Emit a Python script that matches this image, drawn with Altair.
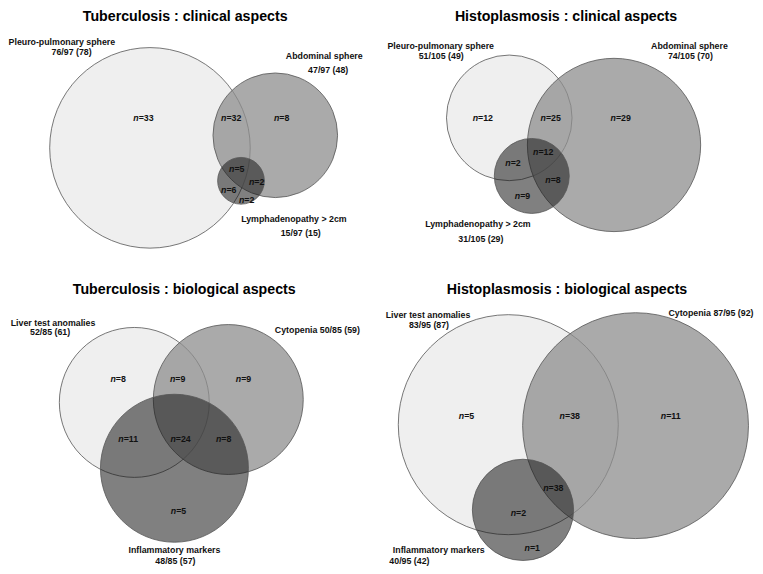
import altair as alt
import pandas as pd

# ---------------- data ----------------
IMG_W, IMG_H = 763, 574
W, H = 747, 558
Y0 = -2.5  # top of vertical domain (keeps titles inside the drawing)
SX = W / IMG_W
SY = H / (IMG_H - Y0)
S = (SX + SY) / 2

titles = ["Tuberculosis : clinical aspects", "Histoplasmosis : clinical aspects",
          "Tuberculosis : biological aspects", "Histoplasmosis : biological aspects"]
title_x = [181, 570, 180, 571]
title_y = [11, 11, 292.5, 293]

circle_name = ["TB Pleuro-pulmonary", "TB Abdominal", "TB Lymphadenopathy",
               "H Pleuro-pulmonary", "H Abdominal", "H Lymphadenopathy",
               "TB Liver", "TB Cytopenia", "TB Inflammatory",
               "H Liver", "H Cytopenia", "H Inflammatory"]
circle_x = [145, 273, 238, 512, 619, 535, 129, 225, 170, 511, 641, 526]
circle_y = [142, 129, 176, 111, 139, 171, 405, 402, 473, 428, 429, 516]
circle_r = [103, 64, 24, 64.5, 89, 38.5, 77, 77, 76, 113, 116, 52]
circle_tone = ["light", "medium", "dark"] * 4

set_text = ["Pleuro-pulmonary sphere", "76/97 (78)", "Abdominal sphere", "47/97 (48)",
            "Lymphadenopathy > 2cm", "15/97 (15)",
            "Pleuro-pulmonary sphere", "51/105 (49)", "Abdominal sphere", "74/105 (70)",
            "Lymphadenopathy > 2cm", "31/105 (29)",
            "Liver test anomalies", "52/85 (61)", "Cytopenia 50/85 (59)",
            "Inflammatory markers", "48/85 (57)",
            "Liver test anomalies", "83/95 (87)", "Cytopenia 87/95 (92)",
            "Inflammatory markers", "40/95 (42)"]
set_x = [55, 65, 323, 327, 292, 299,
         442, 442.5, 696, 697, 480, 483,
         46, 43, 316, 170, 171,
         429, 430, 718, 440, 410]
set_y = [35.5, 46.5, 50, 64.5, 219, 233,
         39.5, 50, 39.5, 50, 224, 239,
         325.7, 335.7, 333.3, 560.7, 572,
         317.7, 327.7, 315.7, 561, 571.7]

n_val = [33, 32, 8, 5, 2, 6, 2,
         12, 25, 29, 12, 2, 8, 9,
         8, 9, 9, 11, 24, 8, 5,
         5, 38, 11, 38, 2, 1]
n_x = [138.3, 228, 279.5, 233.7, 254, 225.5, 243.7,
       485, 554.3, 625.8, 546.7, 515.8, 556.7, 525.5,
       112.5, 173.3, 240.5, 123, 176.3, 220.3, 174.2,
       468.3, 573.8, 677.2, 557, 521.3, 535.5]
n_y = [111.3, 111, 111, 164.3, 177.7, 185.3, 196,
       111.7, 111.7, 111.7, 146.7, 157.7, 175.7, 191.7,
       380.7, 380.7, 380.7, 443.3, 443.3, 443.3, 517.7,
       419.3, 419.3, 419.3, 493.3, 519.3, 556]

# ---------------- styling ----------------
FONT = "Liberation Sans"
TITLE_SIZE = 14.2
LABEL_SIZE = 8.8
tone_fill = {"light": "#efefef", "medium": "#8e8e8e", "dark": "#181818"}
tone_alpha = {"light": 1.0, "medium": 0.75, "dark": 0.55}

xs = alt.Scale(domain=[0, IMG_W], nice=False, zero=False)
ys = alt.Scale(domain=[Y0, IMG_H], nice=False, zero=False, reverse=True)

circles = pd.DataFrame({"name": circle_name, "x": circle_x, "y": circle_y,
                        "r": circle_r, "tone": circle_tone})
# Vega symbol size = area of the bounding square = (2r)^2
circles["size"] = [(2 * r * S) ** 2 for r in circles["r"]]

layers = []
for tone in ["light", "medium", "dark"]:
    d = circles[circles["tone"] == tone]
    layers.append(
        alt.Chart(d).mark_circle(
            fill=tone_fill[tone], fillOpacity=tone_alpha[tone], opacity=1,
            stroke="#555555", strokeWidth=0.8, strokeOpacity=1
        ).encode(
            x=alt.X("x:Q", scale=xs, axis=None),
            y=alt.Y("y:Q", scale=ys, axis=None),
            size=alt.Size("size:Q", scale=None, legend=None),
        )
    )

tdf = pd.DataFrame({"text": titles, "x": title_x, "y": title_y})
layers.append(
    alt.Chart(tdf).mark_text(font=FONT, fontWeight="bold", fontSize=TITLE_SIZE,
                             align="center", baseline="alphabetic", color="#000000")
    .encode(x=alt.X("x:Q", scale=xs, axis=None), y=alt.Y("y:Q", scale=ys, axis=None),
            text="text:N")
)

sdf = pd.DataFrame({"text": set_text, "x": set_x, "y": set_y})
layers.append(
    alt.Chart(sdf).mark_text(font=FONT, fontWeight="bold", fontSize=LABEL_SIZE,
                             align="center", baseline="alphabetic", color="#111111")
    .encode(x=alt.X("x:Q", scale=xs, axis=None), y=alt.Y("y:Q", scale=ys, axis=None),
            text="text:N")
)

# n labels: italic "n" + "=value", centred on the given point
ndf = pd.DataFrame({"v": n_val, "cx": n_x, "cy": n_y})
ndf["rest"] = ["=" + str(v) for v in ndf["v"]]
w_n = 0.611 * LABEL_SIZE
ndf["w_rest"] = [(0.584 + 0.556 * len(str(v))) * LABEL_SIZE for v in ndf["v"]]
ndf["bx"] = ndf["cx"] - ((w_n + ndf["w_rest"]) / 2 - w_n) / SX
ndf["by"] = ndf["cy"] + 3
ndf["n"] = "n"

layers.append(
    alt.Chart(ndf).mark_text(font=FONT, fontWeight="bold", fontStyle="italic",
                             fontSize=LABEL_SIZE, align="right", baseline="alphabetic",
                             color="#111111")
    .encode(x=alt.X("bx:Q", scale=xs, axis=None), y=alt.Y("by:Q", scale=ys, axis=None),
            text="n:N")
)
layers.append(
    alt.Chart(ndf).mark_text(font=FONT, fontWeight="bold", fontSize=LABEL_SIZE,
                             align="left", baseline="alphabetic", color="#111111")
    .encode(x=alt.X("bx:Q", scale=xs, axis=None), y=alt.Y("by:Q", scale=ys, axis=None),
            text="rest:N")
)

chart = alt.layer(*layers).properties(
    width=W, height=H, padding=0,
    autosize=alt.AutoSizeParams(type="none"),
    background="white",
).configure_view(stroke=None)

chart.save("out.html", embed_options={"renderer": "svg", "actions": False})
